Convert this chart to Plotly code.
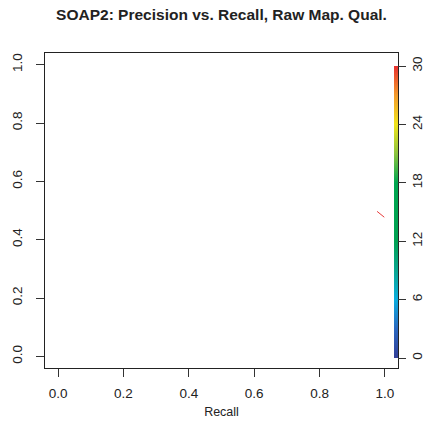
import plotly.graph_objects as go

# Data
recall = [0.976, 0.998]
precision = [0.497, 0.477]
quality = [30, 30]

x_ticks = [0.0, 0.2, 0.4, 0.6, 0.8, 1.0]
y_ticks = [0.0, 0.2, 0.4, 0.6, 0.8, 1.0]
cb_ticks = [0, 6, 12, 18, 24, 30]

colorscale = [
    [0.0, "#333f99"],
    [0.1, "#2a68c0"],
    [0.2, "#0badde"],
    [0.3, "#0aa690"],
    [0.4, "#00a152"],
    [0.6, "#00a650"],
    [0.7, "#8cc43e"],
    [0.8, "#f0e41c"],
    [0.9, "#f39a2c"],
    [1.0, "#e8302f"],
]

W, H = 431, 444
L, R, T, B = 45, 398, 53, 368
FONT = "Liberation Sans, Arial, sans-serif"
TICK_SIZE = 13.5

fig = go.Figure()

fig.add_trace(go.Scatter(
    x=recall, y=precision, mode="lines",
    line=dict(color="#e83a3a", width=1),
    hoverinfo="skip", showlegend=False,
))

fig.add_trace(go.Scatter(
    x=[None], y=[None], mode="markers",
    marker=dict(
        color=[0], cmin=0, cmax=30, colorscale=colorscale, showscale=True,
        colorbar=dict(
            x=(394 - L) / (R - L), xanchor="left", xref="paper", xpad=0,
            y=(B - 358) / (B - T), yanchor="bottom", ypad=0,
            len=(358 - 66) / (B - T), lenmode="fraction",
            thickness=4, thicknessmode="pixels",
            outlinewidth=0,
            tickmode="array", tickvals=cb_ticks,
            ticks="outside", ticklen=8, tickwidth=1, tickcolor="#333",
            tickangle=-90,
            tickfont=dict(family=FONT, size=TICK_SIZE, color="#222"),
        ),
    ),
    hoverinfo="skip", showlegend=False,
))

fig.update_layout(
    width=W, height=H,
    margin=dict(l=L, r=W - R, t=T, b=H - B, autoexpand=False),
    paper_bgcolor="white", plot_bgcolor="white",
    title=dict(
        text="<b>SOAP2: Precision vs. Recall, Raw Map. Qual.</b>",
        x=0.5, xref="paper", xanchor="center",
        y=1 - 15 / H, yanchor="middle",
        font=dict(family=FONT, size=15.5, color="#222"),
    ),
    xaxis=dict(
        range=[-0.04, 1.04], tickmode="array", tickvals=x_ticks,
        ticktext=[f"{v:.1f}" for v in x_ticks],
        ticks="outside", ticklen=8, tickcolor="#333",
        showline=True, mirror=True, linecolor="#222", linewidth=1,
        showgrid=False, zeroline=False, automargin=False,
        tickfont=dict(family=FONT, size=TICK_SIZE, color="#222"),
        ticklabelstandoff=5,
        title=dict(text="Recall", standoff=7,
                   font=dict(family=FONT, size=12.5, color="#222")),
    ),
    yaxis=dict(
        range=[-0.04, 1.04], tickmode="array", tickvals=y_ticks,
        ticktext=[f"{v:.1f}" for v in y_ticks],
        ticks="outside", ticklen=8, tickcolor="#333",
        showline=True, mirror=True, linecolor="#222", linewidth=1,
        showgrid=False, zeroline=False, tickangle=-90, automargin=False,
        tickfont=dict(family=FONT, size=TICK_SIZE, color="#222"),
        ticklabelstandoff=9,
    ),
)

fig.write_html("out.html", config={"displayModeBar": False},
               post_script="document.body.style.margin='0';")
